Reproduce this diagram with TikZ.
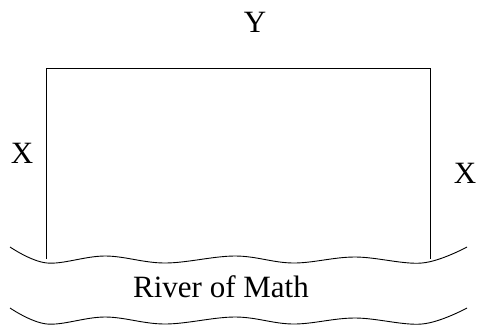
\documentclass[tikz,border=0pt]{standalone}
\usepackage{fontspec}
\setmainfont{Liberation Serif}
\begin{document}
\begin{tikzpicture}[x=1pt,y=-1pt,
  lbl/.style={anchor=base,inner sep=0pt,font=\fontsize{31}{36}\selectfont},
  edge/.style={line width=0.9pt,line join=miter},
  wave/.style={line width=0.9pt}]
\useasboundingbox (0,0) rectangle (481,327);
\coordinate (bl) at (46,259);
\coordinate (tl) at (46,68);
\coordinate (tr) at (430,68);
\coordinate (br) at (430,259);
\draw[edge] (bl) -- (tl) -- (tr) -- (br);
\draw[wave] plot[smooth,tension=0.6] coordinates {(10,247) (47,263) (105,256) (165,263) (235,256) (293,263) (355,257) (422,263) (467,247)};
\draw[wave] plot[smooth,tension=0.6] coordinates {(10,308) (47,324) (105,317) (165,324) (235,317) (293,324) (355,318) (422,324) (467,308)};
\node[lbl] (y) at (255,32) {Y};
\node[lbl] (xl) at (22,163) {X};
\node[lbl] (xr) at (465,183) {X};
\node[lbl] (river) at (221,297) {River of Math};
\end{tikzpicture}
\end{document}
